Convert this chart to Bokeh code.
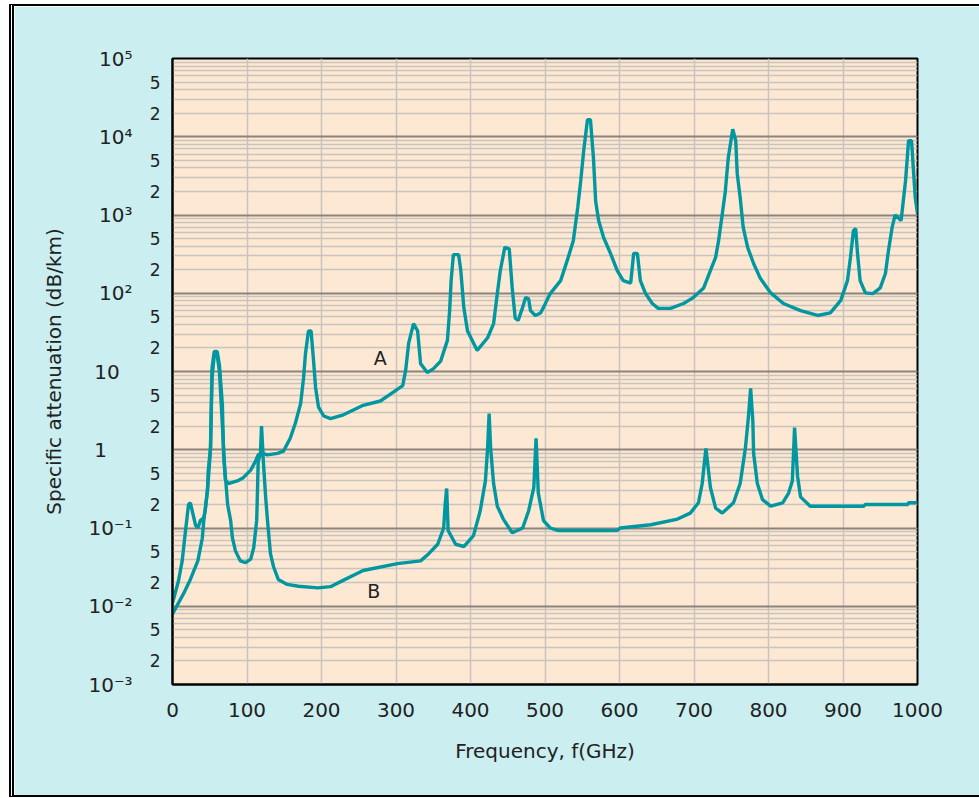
from bokeh.plotting import figure
from bokeh.models import LogAxis, FixedTicker, Grid, ColumnDataSource
from bokeh.core.properties import value
from bokeh.embed import file_html
from bokeh.resources import INLINE

# Curve A: specific attenuation (dB/km) vs frequency (GHz)
freq_a = [0, 8, 13, 17, 21.5, 24, 31, 34, 37.6, 42, 44, 47, 48, 51, 53, 56, 60, 63, 64.5,
          67, 68.5, 71, 75, 87, 95, 105, 111, 115, 121, 127.5, 141, 149, 158, 165, 172,
          176, 178.5, 182.5, 186, 189, 192, 196, 203, 212, 229.5, 256, 279, 297, 309, 313,
          317, 323.5, 329, 333, 342, 350, 360, 369, 372, 374, 377, 384, 387, 391, 396, 409,
          423, 431, 436, 440, 446, 452, 456, 460, 464, 470, 474, 478, 480.5, 487, 494, 498,
          507, 521, 530, 538, 544, 548, 552, 557, 561, 565, 568, 572, 578.5, 588, 597, 605,
          615, 619, 624, 628, 635, 644, 652, 668.5, 686, 699, 713, 722, 729, 733, 738, 742,
          746, 752, 756, 758, 762, 766, 772, 780, 789, 803, 820, 843, 866, 883, 897, 906,
          910, 914, 917, 919.5, 923, 930, 940, 950, 957, 961, 966, 970, 978, 984, 988, 992,
          997, 1000]
atten_a = [0.011, 0.021, 0.038, 0.084, 0.2, 0.21, 0.108, 0.1, 0.125, 0.135, 0.17, 0.32,
           0.54, 1.06, 11, 18, 18, 12, 7.7, 3.7, 0.9, 0.41, 0.37, 0.4, 0.44, 0.55, 0.7,
           0.86, 0.9, 0.86, 0.9, 0.96, 1.4, 2.2, 3.9, 8.4, 17, 33, 33, 15, 6.3, 3.5, 2.7,
           2.5, 2.8, 3.7, 4.2, 5.5, 6.6, 10.4, 23, 41, 33, 12.6, 9.7, 10.8, 13.6, 25, 60,
           145, 312, 312, 195, 66, 33, 18.6, 27, 41, 99, 195, 385, 370, 117, 48, 45, 66,
           88, 85, 60, 52, 56, 66, 99, 145, 265, 470, 1260, 2760, 6700, 16500, 16500, 5400,
           1500, 850, 520, 322, 195, 145, 135, 322, 322, 145, 99, 74, 64, 64, 74, 88, 117,
           195, 287, 470, 1040, 2000, 5400, 12500, 8900, 3400, 1660, 700, 385, 240, 155,
           101, 74, 60, 52, 56, 81, 145, 287, 630, 670, 322, 145, 101, 99, 117, 180, 350,
           700, 1000, 850, 2760, 8900, 8900, 1660, 1040]

# Curve B
freq_b = [0, 15, 24, 34, 40, 42, 47, 51, 53, 56, 60, 63, 66, 70, 74, 78, 80.5, 84.5, 91,
          98, 105, 109, 113, 114, 115, 118, 119.5, 122, 125, 127.5, 131.5, 135.6, 142, 154,
          169, 195, 212, 229, 256, 302, 333, 344, 356, 364, 366, 368, 370, 380, 391, 404, 413,
          420, 423, 425, 427, 431, 436, 444, 456, 470, 478, 485, 488, 491, 498, 507, 517,
          597, 601, 642, 678, 695, 706, 711, 716, 722, 729, 738, 753, 762, 769, 773, 776,
          779, 780, 785, 792, 803, 819, 827, 832, 835, 839, 843, 856, 928, 930, 987, 988,
          1000]
atten_b = [0.008, 0.0146, 0.022, 0.038, 0.074, 0.125, 0.3, 1.0, 8, 16, 16, 10, 3, 0.6,
           0.2, 0.125, 0.074, 0.051, 0.038, 0.036, 0.04, 0.056, 0.125, 0.28, 0.7, 0.9, 2.0,
           0.7, 0.25, 0.125, 0.047, 0.032, 0.022, 0.019, 0.018, 0.0172, 0.0178, 0.0214, 0.0286,
           0.035, 0.038, 0.047, 0.062, 0.1, 0.2, 0.32, 0.093, 0.062, 0.058, 0.08, 0.165,
           0.4, 1.06, 2.9, 1.06, 0.37, 0.19, 0.13, 0.087, 0.1, 0.165, 0.33, 1.4, 0.28,
           0.124, 0.1, 0.093, 0.093, 0.1, 0.11, 0.13, 0.155, 0.21, 0.37, 1.04, 0.33, 0.18,
           0.155, 0.21, 0.37, 1.05, 2.6, 6.1, 2.3, 0.9, 0.37, 0.23, 0.19, 0.21, 0.28, 0.4,
           1.92, 0.46, 0.25, 0.19, 0.19, 0.2, 0.2, 0.21, 0.21]

curve_names = ["A", "B"]
curve_label_freq = [279, 270]
curve_label_atten = [15, 0.0155]

x_ticks = [0, 100, 200, 300, 400, 500, 600, 700, 800, 900, 1000]
decade_ticks = [1e-3, 1e-2, 1e-1, 1, 10, 1e2, 1e3, 1e4, 1e5]
decade_labels = ["10\u207b\u00b3", "10\u207b\u00b2", "10\u207b\u00b9", "1\u2007\u2007",
                 "10\u2007", "10\u00b2", "10\u00b3", "10\u2074", "10\u2075"]
minor_label_ticks = [2e-3, 5e-3, 2e-2, 5e-2, 2e-1, 5e-1, 2, 5, 20, 50, 200, 500,
                     2e3, 5e3, 2e4, 5e4]
minor_labels = ["2", "5"] * 8
minor_grid_ticks = [m * d for d in decade_ticks[:-1] for m in range(2, 10)]

BG = "#cbeef0"
PLOT_BG = "#fde9d3"
LINE = "#0097a0"
FONT = "DejaVu Sans"
TXT = "#222222"

p = figure(frame_width=745, frame_height=626, x_range=(0, 1000), y_range=(1e-3, 1e5),
           y_axis_type="log", y_axis_location=None, output_backend="svg",
           toolbar_location=None, min_border_left=158, min_border_right=62,
           min_border_top=52, min_border_bottom=111)
p.background_fill_color = PLOT_BG
p.border_fill_color = BG
p.outline_line_color = "black"
p.outline_line_width = 2
p.styles = {"margin-left": "9px", "margin-top": "4px",
            "border-left": "5px double black", "border-top": "2px solid black",
            "border-bottom": "2px solid black"}

# x axis
xa = p.xaxis[0]
xa.ticker = FixedTicker(ticks=x_ticks)
xa.major_tick_line_color = None
xa.minor_tick_line_color = None
xa.major_tick_out = 0
xa.minor_tick_out = 0
xa.axis_line_color = "black"
xa.axis_line_width = 2
xa.major_label_standoff = 18
xa.major_label_text_font = FONT
xa.major_label_text_font_size = "20px"
xa.major_label_text_color = TXT
xa.axis_label = "Frequency, f(GHz)"
xa.axis_label_text_font = FONT
xa.axis_label_text_font_style = "normal"
xa.axis_label_text_font_size = "20px"
xa.axis_label_text_color = TXT
xa.axis_label_standoff = 19

p.xgrid.grid_line_color = "#c9c3bd"
p.xgrid.grid_line_width = 1.5

# y grid
ygrid = Grid(dimension=1, ticker=FixedTicker(ticks=decade_ticks, minor_ticks=minor_grid_ticks),
             grid_line_color="#8c847c", grid_line_width=2,
             minor_grid_line_color="#c9c3bd", minor_grid_line_width=1.5)
p.add_layout(ygrid)

# inner y axis (2 / 5 labels)
ya_minor = LogAxis(ticker=FixedTicker(ticks=minor_label_ticks),
                   major_label_overrides=dict(zip(minor_label_ticks, minor_labels)),
                   axis_line_color="black", axis_line_width=2,
                   major_tick_line_color=None, minor_tick_line_color=None,
                   major_tick_out=0, minor_tick_out=0,
                   major_label_standoff=12, major_label_text_font=FONT,
                   major_label_text_font_size="17px", major_label_text_color=TXT)
# outer y axis (decades)
ya_major = LogAxis(ticker=FixedTicker(ticks=decade_ticks),
                   major_label_overrides=dict(zip(decade_ticks, decade_labels)),
                   axis_line_color=None, major_tick_line_color=None,
                   minor_tick_line_color=None, major_tick_out=0, minor_tick_out=0,
                   major_label_standoff=14,
                   major_label_text_font=FONT, major_label_text_font_size="20px",
                   major_label_text_color=TXT,
                   axis_label="Specific attenuation (dB/km)", axis_label_text_font=FONT,
                   axis_label_text_font_style="normal", axis_label_text_font_size="20px",
                   axis_label_text_color=TXT, axis_label_standoff=19)
p.add_layout(ya_minor, "left")
p.add_layout(ya_major, "left")

src_a = ColumnDataSource(dict(f=freq_a, v=atten_a))
src_b = ColumnDataSource(dict(f=freq_b, v=atten_b))
p.line("f", "v", source=src_a, line_color=LINE, line_width=3.4)
p.line("f", "v", source=src_b, line_color=LINE, line_width=3.4)

lab = ColumnDataSource(dict(f=curve_label_freq, v=curve_label_atten, t=curve_names))
p.text("f", "v", text="t", source=lab, text_font=value(FONT), text_font_size="19px",
       text_align="center", text_baseline="middle", text_color=TXT)

open("out.html", "w").write(file_html(p, INLINE))
